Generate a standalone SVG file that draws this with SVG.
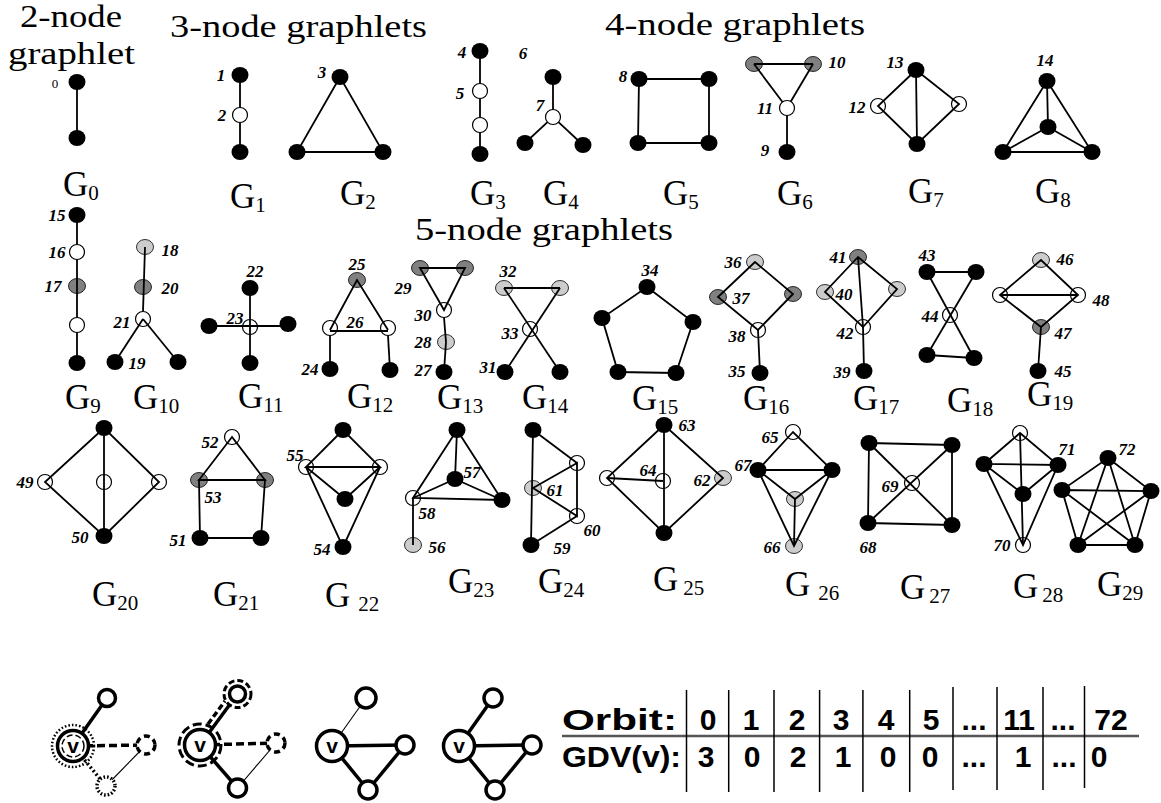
<svg xmlns="http://www.w3.org/2000/svg" width="1161" height="803" viewBox="0 0 1161 803">
<style>
.e{stroke:#000;stroke-width:1.8;fill:none}
.b{fill:#000}
.g{fill:#808080;stroke:#000;stroke-width:0.8}
.lg{fill:#cccccc;stroke:#000;stroke-width:0.8}
.ow{fill:#fff;stroke:#000;stroke-width:1.2}
.on{fill:none;stroke:#000;stroke-width:1.2}
.l{font-family:"Liberation Serif",serif;font-weight:bold;font-style:italic;font-size:17px;text-anchor:middle;fill:#000}
.G{font-family:"Liberation Serif",serif;font-size:35px;fill:#000}
.s{font-size:21px}
.t{font-family:"Liberation Serif",serif;font-size:31px;fill:#000}
.tk{stroke:#000;stroke-width:3.5;fill:none}
.tn{stroke:#000;stroke-width:1.1;fill:none}
.c{fill:#fff;stroke:#000;stroke-width:3.5}
.v{font-family:"Liberation Sans",sans-serif;font-weight:bold;font-size:21px;text-anchor:middle}
.tb{font-family:"Liberation Sans",sans-serif;font-weight:bold;font-size:30px}
.tc{font-family:"Liberation Sans",sans-serif;font-weight:bold;font-size:30px;text-anchor:middle}
</style>

<g id="titles">
<text class="t" x="20" y="27" font-size="33" textLength="102" lengthAdjust="spacingAndGlyphs">2-node</text>
<text class="t" x="8" y="64" font-size="33" textLength="127" lengthAdjust="spacingAndGlyphs">graphlet</text>
<text class="t" x="170" y="37" textLength="257" lengthAdjust="spacingAndGlyphs">3-node graphlets</text>
<text class="t" x="605" y="35" textLength="260" lengthAdjust="spacingAndGlyphs">4-node graphlets</text>
<text class="t" x="415" y="240" textLength="258" lengthAdjust="spacingAndGlyphs">5-node graphlets</text>
</g>

<g id="G0">
<ellipse class="b" cx="77" cy="82" rx="8.5" ry="8"/><ellipse class="b" cx="77" cy="138" rx="8.5" ry="8"/>
<text x="55" y="88" font-family="Liberation Serif, serif" font-size="13" text-anchor="middle" fill="#000">0</text>
<text class="G" x="63" y="196">G<tspan class="s" dy="4">0</tspan></text>
</g>
<g id="G1">
<ellipse class="b" cx="240" cy="75" rx="8.5" ry="8"/><circle class="ow" cx="240" cy="115" r="7.5"/><ellipse class="b" cx="240" cy="152" rx="8.5" ry="8"/>
<text class="l" x="221" y="81">1</text><text class="l" x="222" y="121">2</text>
<text class="G" x="230" y="208">G<tspan class="s" dy="4">1</tspan></text>
</g>
<g id="G2">
<ellipse class="b" cx="340" cy="77" rx="8.5" ry="8"/><ellipse class="b" cx="297" cy="152" rx="8.5" ry="8"/><ellipse class="b" cx="383" cy="152" rx="8.5" ry="8"/>
<text class="l" x="322" y="78">3</text>
<text class="G" x="340" y="205">G<tspan class="s" dy="4">2</tspan></text>
</g>
<g id="G3">
<ellipse class="b" cx="480" cy="51" rx="8.5" ry="8"/><circle class="ow" cx="480" cy="91" r="7.5"/><circle class="ow" cx="480" cy="125" r="7.5"/><ellipse class="b" cx="480" cy="154" rx="8.5" ry="8"/>
<text class="l" x="462" y="58">4</text><text class="l" x="460" y="99">5</text>
<text class="G" x="470" y="205">G<tspan class="s" dy="4">3</tspan></text>
</g>
<g id="G4">
<ellipse class="b" cx="553" cy="77" rx="8.5" ry="8"/><circle class="ow" cx="553" cy="117" r="7.5"/><ellipse class="b" cx="525" cy="143" rx="8.5" ry="8"/><ellipse class="b" cx="583" cy="145" rx="8.5" ry="8"/>
<text class="l" x="523" y="59">6</text><text class="l" x="540" y="111" font-style="normal">7</text>
<text class="G" x="543" y="205">G<tspan class="s" dy="4">4</tspan></text>
</g>
<g id="G5">
<ellipse class="b" cx="639" cy="79" rx="8.5" ry="8"/><ellipse class="b" cx="709" cy="79" rx="8.5" ry="8"/><ellipse class="b" cx="638" cy="143" rx="8.5" ry="8"/><ellipse class="b" cx="709" cy="143" rx="8.5" ry="8"/>
<text class="l" x="623" y="82">8</text>
<text class="G" x="663" y="205">G<tspan class="s" dy="4">5</tspan></text>
</g>
<g id="G6">
<ellipse class="g" cx="754" cy="64" rx="8.5" ry="7.5"/><ellipse class="g" cx="813" cy="64" rx="8.5" ry="7.5"/><circle class="ow" cx="787" cy="108" r="7.5"/><ellipse class="b" cx="787" cy="152" rx="8.5" ry="8"/>
<text class="l" x="837" y="68">10</text><text class="l" x="765" y="114">11</text><text class="l" x="765" y="156">9</text>
<text class="G" x="777" y="205">G<tspan class="s" dy="4">6</tspan></text>
</g>
<g id="G7">
<ellipse class="b" cx="916" cy="70" rx="8.5" ry="8"/><circle class="on" cx="878" cy="106" r="7.5"/><circle class="on" cx="959" cy="104" r="7.5"/><ellipse class="b" cx="917" cy="144" rx="8.5" ry="8"/>
<text class="l" x="895" y="68">13</text><text class="l" x="857" y="113">12</text>
<text class="G" x="908" y="203">G<tspan class="s" dy="4">7</tspan></text>
</g>
<g id="G8">
<ellipse class="b" cx="1047" cy="81" rx="8.5" ry="8"/><ellipse class="b" cx="1048" cy="127" rx="8.5" ry="8"/><ellipse class="b" cx="1003" cy="152" rx="8.5" ry="8"/><ellipse class="b" cx="1092" cy="152" rx="8.5" ry="8"/>
<text class="l" x="1045" y="66">14</text>
<text class="G" x="1035" y="203">G<tspan class="s" dy="4">8</tspan></text>
</g>
<g id="G9">
<ellipse class="b" cx="77" cy="215" rx="8.5" ry="8"/><circle class="ow" cx="77" cy="252" r="7.5"/><ellipse class="g" cx="77" cy="286" rx="8.5" ry="7.5"/><circle class="ow" cx="77" cy="325" r="7.5"/><ellipse class="b" cx="77" cy="363" rx="8.5" ry="8"/>
<text class="l" x="57" y="221">15</text><text class="l" x="57" y="258">16</text><text class="l" x="53" y="292">17</text>
<text class="G" x="65" y="409">G<tspan class="s" dy="4">9</tspan></text>
</g>
<g id="G10">
<ellipse class="lg" cx="145" cy="247" rx="8.5" ry="7.5"/><ellipse class="g" cx="143" cy="287" rx="8.5" ry="7.5"/><circle class="on" cx="143" cy="319" r="7.5"/><ellipse class="b" cx="115" cy="362" rx="8.5" ry="8"/><ellipse class="b" cx="178" cy="362" rx="8.5" ry="8"/>
<text class="l" x="170" y="256">18</text><text class="l" x="170" y="294">20</text><text class="l" x="122" y="328">21</text><text class="l" x="137" y="369">19</text>
<text class="G" x="133" y="409">G<tspan class="s" dy="4">10</tspan></text>
</g>
<g id="G11">
<ellipse class="b" cx="250" cy="288" rx="8.5" ry="8"/><ellipse class="b" cx="209" cy="326" rx="8.5" ry="8"/><circle class="on" cx="250" cy="327" r="7.5"/><ellipse class="b" cx="288" cy="324" rx="8.5" ry="8"/><ellipse class="b" cx="250" cy="363" rx="8.5" ry="8"/>
<text class="l" x="255" y="277">22</text><text class="l" x="235" y="324">23</text>
<text class="G" x="238" y="408">G<tspan class="s" dy="4">11</tspan></text>
</g>
<g id="G12">
<ellipse class="g" cx="357" cy="280" rx="8.5" ry="7.5"/><circle class="on" cx="330" cy="328" r="7.5"/><circle class="on" cx="388" cy="328" r="7.5"/><ellipse class="b" cx="330" cy="369" rx="8.5" ry="8"/><ellipse class="b" cx="390" cy="370" rx="8.5" ry="8"/>
<text class="l" x="357" y="270">25</text><text class="l" x="355" y="328">26</text><text class="l" x="310" y="375">24</text>
<text class="G" x="347" y="408">G<tspan class="s" dy="4">12</tspan></text>
</g>
<g id="G13">
<ellipse class="g" cx="420" cy="268" rx="8.5" ry="7.5"/><ellipse class="g" cx="465" cy="268" rx="8.5" ry="7.5"/><circle class="on" cx="444" cy="310" r="7.5"/><ellipse class="lg" cx="446" cy="342" rx="8.5" ry="7.5"/><ellipse class="b" cx="444" cy="372" rx="8.5" ry="8"/>
<text class="l" x="403" y="294">29</text><text class="l" x="423" y="321">30</text><text class="l" x="423" y="348">28</text><text class="l" x="423" y="376">27</text>
<text class="G" x="437" y="409">G<tspan class="s" dy="4">13</tspan></text>
</g>
<g id="G14">
<ellipse class="lg" cx="504" cy="288" rx="8.5" ry="7.5"/><ellipse class="lg" cx="560" cy="288" rx="8.5" ry="7.5"/><circle class="on" cx="530" cy="329" r="7.5"/><ellipse class="b" cx="505" cy="372" rx="8.5" ry="8"/><ellipse class="b" cx="560" cy="372" rx="8.5" ry="8"/>
<text class="l" x="508" y="277">32</text><text class="l" x="510" y="339">33</text><text class="l" x="488" y="373">31</text>
<text class="G" x="522" y="409">G<tspan class="s" dy="4">14</tspan></text>
</g>
<g id="G15">
<ellipse class="b" cx="647" cy="287" rx="8.5" ry="8"/><ellipse class="b" cx="693" cy="322" rx="8.5" ry="8"/><ellipse class="b" cx="676" cy="373" rx="8.5" ry="8"/><ellipse class="b" cx="618" cy="372" rx="8.5" ry="8"/><ellipse class="b" cx="602" cy="318" rx="8.5" ry="8"/>
<text class="l" x="650" y="276">34</text>
<text class="G" x="632" y="410">G<tspan class="s" dy="4">15</tspan></text>
</g>
<g id="G16">
<ellipse class="lg" cx="755" cy="262" rx="8.5" ry="7.5"/><ellipse class="g" cx="718" cy="297" rx="8.5" ry="7.5"/><ellipse class="g" cx="793" cy="294" rx="8.5" ry="7.5"/><circle class="on" cx="758" cy="330" r="7.5"/><ellipse class="b" cx="760" cy="373" rx="8.5" ry="8"/>
<text class="l" x="733" y="268">36</text><text class="l" x="741" y="304">37</text><text class="l" x="737" y="342">38</text><text class="l" x="737" y="377">35</text>
<text class="G" x="743" y="410">G<tspan class="s" dy="4">16</tspan></text>
</g>
<g id="G17">
<ellipse class="g" cx="858" cy="257" rx="8.5" ry="7.5"/><ellipse class="lg" cx="825" cy="292" rx="8.5" ry="7.5"/><ellipse class="lg" cx="897" cy="289" rx="8.5" ry="7.5"/><circle class="on" cx="863" cy="327" r="7.5"/><ellipse class="b" cx="864" cy="371" rx="8.5" ry="8"/>
<text class="l" x="838" y="263">41</text><text class="l" x="844" y="300">40</text><text class="l" x="845" y="339">42</text><text class="l" x="842" y="378">39</text>
<text class="G" x="853" y="410">G<tspan class="s" dy="4">17</tspan></text>
</g>
<g id="G18">
<ellipse class="b" cx="927" cy="272" rx="8.5" ry="8"/><ellipse class="b" cx="976" cy="272" rx="8.5" ry="8"/><circle class="on" cx="950" cy="315" r="7.5"/><ellipse class="b" cx="927" cy="355" rx="8.5" ry="8"/><ellipse class="b" cx="974" cy="358" rx="8.5" ry="8"/>
<text class="l" x="927" y="261">43</text><text class="l" x="930" y="322">44</text>
<text class="G" x="947" y="412">G<tspan class="s" dy="4">18</tspan></text>
</g>
<g id="G19">
<ellipse class="lg" cx="1041" cy="260" rx="8.5" ry="7.5"/><circle class="on" cx="1000" cy="295" r="7.5"/><circle class="on" cx="1078" cy="295" r="7.5"/><ellipse class="g" cx="1041" cy="327" rx="8.5" ry="7.5"/><ellipse class="b" cx="1038" cy="371" rx="8.5" ry="8"/>
<text class="l" x="1065" y="265">46</text><text class="l" x="1101" y="306">48</text><text class="l" x="1063" y="339">47</text><text class="l" x="1063" y="377">45</text>
<text class="G" x="1027" y="406">G<tspan class="s" dy="4">19</tspan></text>
</g>
<g id="G20">
<ellipse class="b" cx="104" cy="428" rx="8.5" ry="8"/><circle class="on" cx="45" cy="482" r="7.5"/><circle class="on" cx="104" cy="482" r="7.5"/><circle class="on" cx="159" cy="482" r="7.5"/><ellipse class="b" cx="104" cy="536" rx="8.5" ry="8"/>
<text class="l" x="25" y="488">49</text><text class="l" x="80" y="543">50</text>
<text class="G" x="92" y="606">G<tspan class="s" dy="4">20</tspan></text>
</g>
<g id="G21">
<circle class="on" cx="232" cy="437" r="7.5"/><ellipse class="g" cx="199" cy="480" rx="8.5" ry="7.5"/><ellipse class="g" cx="265" cy="480" rx="8.5" ry="7.5"/><ellipse class="b" cx="200" cy="538" rx="8.5" ry="8"/><ellipse class="b" cx="261" cy="538" rx="8.5" ry="8"/>
<text class="l" x="210" y="448">52</text><text class="l" x="213" y="503">53</text><text class="l" x="178" y="546">51</text>
<text class="G" x="213" y="606">G<tspan class="s" dy="4">21</tspan></text>
</g>
<g id="G22">
<ellipse class="b" cx="343" cy="430" rx="8.5" ry="8"/><circle class="on" cx="306" cy="467" r="7.5"/><circle class="on" cx="380" cy="467" r="7.5"/><ellipse class="b" cx="345" cy="499" rx="8.5" ry="8"/><ellipse class="b" cx="343" cy="547" rx="8.5" ry="8"/>
<text class="l" x="295" y="461">55</text><text class="l" x="322" y="555">54</text>
<text class="G" x="325" y="607">G<tspan class="s" dx="8" dy="4">22</tspan></text>
</g>
<g id="G23">
<ellipse class="b" cx="457" cy="430" rx="8.5" ry="8"/><ellipse class="b" cx="455" cy="479" rx="8.5" ry="8"/><ellipse class="b" cx="502" cy="500" rx="8.5" ry="8"/><circle class="on" cx="413" cy="498" r="7.5"/><ellipse class="lg" cx="413" cy="545" rx="8.5" ry="7.5"/>
<text class="l" x="472" y="478">57</text><text class="l" x="427" y="519">58</text><text class="l" x="437" y="553">56</text>
<text class="G" x="448" y="593">G<tspan class="s" dy="4">23</tspan></text>
</g>
<g id="G24">
<ellipse class="b" cx="533" cy="430" rx="8.5" ry="8"/><ellipse class="lg" cx="533" cy="488" rx="8.5" ry="7.5"/><circle class="on" cx="577" cy="463" r="7.5"/><circle class="on" cx="577" cy="516" r="7.5"/><ellipse class="b" cx="531" cy="545" rx="8.5" ry="8"/>
<text class="l" x="555" y="496">61</text><text class="l" x="592" y="536">60</text><text class="l" x="562" y="554">59</text>
<text class="G" x="538" y="593">G<tspan class="s" dy="4">24</tspan></text>
</g>
<g id="G25">
<ellipse class="b" cx="664" cy="425" rx="8.5" ry="8"/><circle class="on" cx="607" cy="478" r="7.5"/><circle class="on" cx="663" cy="481" r="7.5"/><ellipse class="lg" cx="723" cy="478" rx="8.5" ry="7.5"/><ellipse class="b" cx="664" cy="533" rx="8.5" ry="8"/>
<text class="l" x="687" y="431">63</text><text class="l" x="648" y="476">64</text><text class="l" x="702" y="486">62</text>
<text class="G" x="653" y="591">G<tspan class="s" dx="5" dy="4">25</tspan></text>
</g>
<g id="G26">
<circle class="on" cx="793" cy="432" r="7.5"/><ellipse class="b" cx="758" cy="470" rx="8.5" ry="8"/><ellipse class="b" cx="832" cy="470" rx="8.5" ry="8"/><ellipse class="lg" cx="795" cy="499" rx="8.5" ry="7.5"/><ellipse class="lg" cx="794" cy="546" rx="8.5" ry="7.5"/>
<text class="l" x="770" y="443">65</text><text class="l" x="743" y="471">67</text><text class="l" x="772" y="553">66</text>
<text class="G" x="785" y="596">G<tspan class="s" dx="8" dy="4">26</tspan></text>
</g>
<g id="G27">
<ellipse class="b" cx="869" cy="443" rx="8.5" ry="8"/><ellipse class="b" cx="952" cy="445" rx="8.5" ry="8"/><ellipse class="b" cx="868" cy="523" rx="8.5" ry="8"/><ellipse class="b" cx="952" cy="525" rx="8.5" ry="8"/><circle class="on" cx="912" cy="483" r="7.5"/>
<text class="l" x="890" y="492">69</text><text class="l" x="868" y="553">68</text>
<text class="G" x="900" y="599">G<tspan class="s" dx="4" dy="4">27</tspan></text>
</g>
<g id="G28">
<circle class="on" cx="1020" cy="433" r="7.5"/><ellipse class="b" cx="984" cy="464" rx="8.5" ry="8"/><ellipse class="b" cx="1058" cy="465" rx="8.5" ry="8"/><ellipse class="b" cx="1023" cy="494" rx="8.5" ry="8"/><circle class="on" cx="1023" cy="545" r="7.5"/>
<text class="l" x="1067" y="455">71</text><text class="l" x="1002" y="551">70</text>
<text class="G" x="1013" y="598">G<tspan class="s" dx="4" dy="4">28</tspan></text>
</g>
<g id="G29">
<ellipse class="b" cx="1108" cy="458" rx="8.5" ry="8"/><ellipse class="b" cx="1062" cy="490" rx="8.5" ry="8"/><ellipse class="b" cx="1151" cy="491" rx="8.5" ry="8"/><ellipse class="b" cx="1078" cy="545" rx="8.5" ry="8"/><ellipse class="b" cx="1135" cy="545" rx="8.5" ry="8"/>
<text class="l" x="1127" y="455">72</text>
<text class="G" x="1097" y="596">G<tspan class="s" dy="4">29</tspan></text>
</g>

<g id="connectors" class="e">
<line x1="77" y1="82" x2="77" y2="138"/>
<line x1="240" y1="75" x2="240" y2="107.5"/><line x1="240" y1="122.5" x2="240" y2="152"/>
<polygon points="340,77 297,152 383,152"/>
<line x1="480" y1="51" x2="480" y2="83.5"/><line x1="480" y1="98.5" x2="480" y2="117.5"/><line x1="480" y1="132.5" x2="480" y2="154"/>
<line x1="553" y1="77" x2="553" y2="109.5"/><line x1="547.5" y1="122.1" x2="525" y2="143"/><line x1="558.5" y1="122.1" x2="583" y2="145"/>
<polygon points="639,79 709,79 709,143 638,143"/>
<line x1="754" y1="64" x2="813" y2="64"/><line x1="754" y1="64" x2="782.5" y2="102"/><line x1="813" y1="64" x2="790.8" y2="101.5"/><line x1="787" y1="115.5" x2="787" y2="152"/>
<polygon points="916,70 878,106 917,144 959,104"/><line x1="916" y1="70" x2="917" y2="144"/>
<polygon points="1047,81 1003,152 1092,152"/><line x1="1047" y1="81" x2="1048" y2="127"/><line x1="1048" y1="127" x2="1003" y2="152"/><line x1="1048" y1="127" x2="1092" y2="152"/>
<line x1="77" y1="215" x2="77" y2="244.5"/><line x1="77" y1="259.5" x2="77" y2="317.5"/><line x1="77" y1="332.5" x2="77" y2="363"/>
<line x1="145" y1="247" x2="143" y2="311.5"/><line x1="143" y1="319" x2="115" y2="362"/><line x1="143" y1="319" x2="178" y2="362"/>
<line x1="250" y1="288" x2="250" y2="363"/><line x1="209" y1="326" x2="288" y2="326"/>
<polyline points="330,330 357,280 388,330"/><line x1="330" y1="331" x2="388" y2="331"/><line x1="330" y1="335.5" x2="330" y2="369"/><line x1="388" y1="335.5" x2="390" y2="370"/>
<polygon points="420,268 465,268 444,310"/><line x1="444" y1="317.5" x2="446" y2="342"/><line x1="446" y1="342" x2="444" y2="372"/>
<line x1="504" y1="288" x2="560" y2="288"/><line x1="504" y1="288" x2="560" y2="372"/><line x1="560" y1="288" x2="505" y2="372"/>
<polygon points="647,287 693,322 676,373 618,372 602,318"/>
<polygon points="755,262 718,297 758,330 793,294"/><line x1="758" y1="330" x2="760" y2="373"/>
<polygon points="858,257 825,292 863,327 897,289"/><line x1="858" y1="257" x2="863" y2="327"/><line x1="863" y1="327" x2="864" y2="371"/>
<line x1="927" y1="272" x2="976" y2="272"/><line x1="927" y1="355" x2="974" y2="358"/><line x1="927" y1="272" x2="974" y2="358"/><line x1="976" y1="272" x2="927" y2="355"/>
<polygon points="1041,260 1000,295 1041,327 1078,295"/><line x1="1000" y1="295" x2="1078" y2="295"/><line x1="1041" y1="327" x2="1038" y2="371"/>
<polygon points="104,428 45,482 104,536 159,482"/><line x1="104" y1="428" x2="104" y2="536"/>
<polygon points="232,437 199,480 265,480"/><polygon points="199,480 265,480 261,538 200,538"/>
<polygon points="343,430 306,467 380,467"/><polyline points="306,467 345,499 380,467"/><polyline points="306,467 343,547 380,467"/>
<polygon points="457,430 413,498 502,500"/><line x1="457" y1="430" x2="455" y2="479"/><line x1="455" y1="479" x2="413" y2="498"/><line x1="455" y1="479" x2="502" y2="500"/><line x1="413" y1="498" x2="413" y2="545"/>
<line x1="533" y1="430" x2="531" y2="545"/><line x1="533" y1="430" x2="577" y2="463"/><polygon points="533,488 577,463 577,516"/><line x1="577" y1="516" x2="531" y2="545"/>
<polygon points="664,425 607,478 664,533 723,478"/><line x1="664" y1="425" x2="664" y2="533"/><line x1="607" y1="478" x2="663" y2="481"/>
<polygon points="793,432 758,470 832,470"/><polyline points="758,470 795,499 832,470"/><polyline points="758,470 794,546 832,470"/><line x1="795" y1="499" x2="794" y2="546"/>
<polygon points="869,443 952,445 952,525 868,523"/><line x1="869" y1="443" x2="952" y2="525"/><line x1="952" y1="445" x2="868" y2="523"/>
<polygon points="1020,433 984,464 1058,465"/><line x1="1020" y1="433" x2="1023" y2="545"/><polyline points="984,464 1023,494 1058,465"/><polyline points="984,464 1023,545 1058,465"/>
<polygon points="1108,458 1151,491 1135,545 1078,545 1062,490"/><polygon points="1108,458 1135,545 1062,490 1151,491 1078,545"/>
</g>

<g id="example1">
<line class="tk" x1="73" y1="746" x2="107" y2="698"/>
<line class="tk" x1="73" y1="746" x2="146" y2="745" stroke-dasharray="8 4"/>
<line class="tk" x1="73" y1="746" x2="106" y2="786" stroke-dasharray="2 2.5"/>
<line class="tn" x1="146" y1="745" x2="106" y2="786"/>
<circle cx="73" cy="746" r="21" fill="none" stroke="#000" stroke-width="2.5" stroke-dasharray="1.6 2"/>
<circle class="c" cx="73" cy="746" r="15.5"/>
<circle cx="73" cy="746" r="11" fill="none" stroke="#000" stroke-width="1.5" stroke-dasharray="6 3"/>
<text class="v" x="73" y="753">v</text>
<circle class="c" cx="107" cy="698" r="8.5"/>
<circle class="c" cx="146" cy="745" r="9" stroke-width="2.5" stroke-dasharray="6 4"/>
<circle class="c" cx="106" cy="786" r="9" stroke-width="2" stroke-dasharray="1.6 2"/>
</g>
<g id="example2">
<line class="tk" x1="200" y1="745" x2="237.5" y2="694"/>
<line class="tk" x1="208" y1="724" x2="225" y2="701" stroke-width="3" stroke-dasharray="6 3"/>
<line class="tk" x1="200" y1="745" x2="276" y2="743" stroke-dasharray="8 4"/>
<line class="tk" x1="200" y1="745" x2="237.5" y2="788"/>
<line class="tn" x1="276" y1="743" x2="237.5" y2="788"/>
<circle cx="200" cy="745" r="21" fill="none" stroke="#000" stroke-width="3" stroke-dasharray="9 4"/>
<circle class="c" cx="200" cy="745" r="15.5"/>
<text class="v" x="200" y="752">v</text>
<circle cx="237.5" cy="694" r="13.5" fill="#fff" stroke="#000" stroke-width="3" stroke-dasharray="6 3"/>
<circle class="c" cx="237.5" cy="694" r="8"/>
<circle class="c" cx="276" cy="743" r="9" stroke-width="2.5" stroke-dasharray="6 4"/>
<circle class="c" cx="237.5" cy="788" r="9"/>
</g>
<g id="example3">
<line class="tn" x1="332" y1="746" x2="366" y2="698"/>
<line class="tk" x1="332" y1="746" x2="405" y2="745"/>
<line class="tk" x1="332" y1="746" x2="368" y2="790"/>
<line class="tk" x1="405" y1="745" x2="368" y2="790"/>
<circle class="c" cx="332" cy="746" r="15.5"/>
<text class="v" x="332" y="753">v</text>
<circle class="c" cx="366" cy="698" r="10" stroke-width="1.1"/>
<circle class="c" cx="405" cy="745" r="9"/>
<circle class="c" cx="368" cy="790" r="9"/>
</g>
<g id="example4">
<line class="tk" x1="459" y1="746" x2="493" y2="698"/>
<line class="tk" x1="459" y1="746" x2="532" y2="745"/>
<line class="tk" x1="459" y1="746" x2="495" y2="790"/>
<line class="tk" x1="532" y1="745" x2="495" y2="790"/>
<circle class="c" cx="459" cy="746" r="15.5"/>
<text class="v" x="459" y="753">v</text>
<circle class="c" cx="493" cy="698" r="9"/>
<circle class="c" cx="532" cy="745" r="9"/>
<circle class="c" cx="495" cy="790" r="9"/>
</g>

<g id="gdv-table">
<line x1="562" y1="736" x2="1139" y2="736" stroke="#555" stroke-width="2.5"/>
<g stroke="#000" stroke-width="1.5">
<line x1="686.5" y1="690" x2="686.5" y2="792"/>
<line x1="728.7" y1="690" x2="728.7" y2="792"/>
<line x1="774" y1="690" x2="774" y2="792"/>
<line x1="819.6" y1="690" x2="819.6" y2="792"/>
<line x1="862.9" y1="690" x2="862.9" y2="792"/>
<line x1="909.7" y1="690" x2="909.7" y2="792"/>
<line x1="953" y1="687" x2="953" y2="790"/>
<line x1="997" y1="687" x2="997" y2="790"/>
<line x1="1043" y1="687" x2="1043" y2="790"/>
<line x1="1084.5" y1="686" x2="1084.5" y2="788"/>
</g>
<text class="tb" x="562" y="730" textLength="115" lengthAdjust="spacingAndGlyphs">Orbit:</text>
<text class="tb" x="562" y="767" textLength="119" lengthAdjust="spacingAndGlyphs">GDV(v):</text>
<text class="tc" x="708" y="730">0</text><text class="tc" x="751" y="730">1</text><text class="tc" x="797" y="730">2</text><text class="tc" x="841" y="730">3</text><text class="tc" x="886" y="730">4</text><text class="tc" x="931" y="730">5</text><text class="tc" x="974" y="730">...</text><text class="tc" x="1019" y="730">11</text><text class="tc" x="1063" y="730">...</text><text class="tc" x="1111" y="730">72</text>
<text class="tc" x="706" y="767">3</text><text class="tc" x="752" y="767">0</text><text class="tc" x="798" y="767">2</text><text class="tc" x="843" y="767">1</text><text class="tc" x="888" y="767">0</text><text class="tc" x="930" y="767">0</text><text class="tc" x="974" y="767">...</text><text class="tc" x="1023" y="767">1</text><text class="tc" x="1064" y="767">...</text><text class="tc" x="1099" y="767">0</text>
</g>
</svg>
